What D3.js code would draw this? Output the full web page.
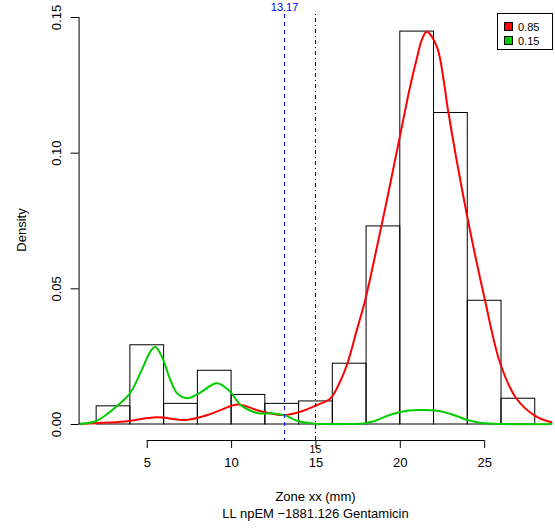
<!DOCTYPE html>
<html>
<head>
<meta charset="utf-8">
<script src="https://cdn.jsdelivr.net/npm/d3@7"></script>
<style>
  body { margin: 0; background: #fff; }
  svg text { font-family: "Liberation Sans", Arial, sans-serif; }
</style>
</head>
<body>
<div id="chart"></div>
<script>
// histogram bins (width 2) and densities
var binStarts = [2, 4, 6, 8, 10, 12, 14, 16, 18, 20, 22, 24, 26];
var binDensity = [0.0067, 0.0292, 0.0076, 0.0198, 0.0109, 0.0076, 0.0085, 0.0224, 0.0730, 0.1448, 0.1148, 0.0456, 0.0095];

// component curves
var redX = [0.92, 2.0, 3.7, 5.6, 7.3, 8.6, 9.4, 10.4, 11.7, 13.1, 14.1, 15.1, 15.9, 16.45, 16.9, 17.45, 17.95, 18.9, 19.3, 20.2, 20.6, 21.0, 21.3, 21.6, 22.2, 22.6, 22.85, 24.0, 25.05, 25.95, 26.9, 28.1, 29.1];
var redY = [0, 0.0003, 0.0009, 0.0025, 0.0015, 0.0033, 0.0052, 0.0072, 0.0048, 0.0033, 0.0045, 0.007, 0.0095, 0.0155, 0.0224, 0.0346, 0.0457, 0.0727, 0.0845, 0.112, 0.124, 0.1345, 0.1415, 0.1446, 0.139, 0.1267, 0.116, 0.0764, 0.0456, 0.0224, 0.0095, 0.0027, 0.0005];
var greenX = [0.92, 1.93, 2.7, 3.3, 4.0, 4.7, 5.2, 5.5, 5.9, 6.4, 6.8, 7.4, 8.1, 9.15, 9.85, 10.6, 11.3, 11.7, 12.5, 13.3, 13.9, 14.7, 15.5, 17.0, 17.8, 18.4, 19.4, 20.4, 21.2, 22.4, 23.2, 24.0, 24.75, 26, 29.1];
var greenY = [0, 0.0009, 0.0039, 0.007, 0.0113, 0.0199, 0.0266, 0.0285, 0.0248, 0.0162, 0.0113, 0.0095, 0.0113, 0.015, 0.0125, 0.0068, 0.0045, 0.0039, 0.0039, 0.003, 0.0012, 0.0003, 0, 0, 0.0002, 0.0009, 0.0033, 0.0049, 0.0052, 0.0047, 0.0033, 0.0015, 0.0005, 0, 0];

var xTicks = [5, 10, 15, 20, 25];
var yTicks = [0, 0.05, 0.10, 0.15];
var legendLabels = ["0.85", "0.15"];
var legendColors = ["#FF0000", "#00CD00"];
var cutoff = 13.17;
var breakpoint = 15;

var width = 555, height = 530;

var x = d3.scaleLinear().domain([0.96, 29.04]).range([78.6, 552.3]);
var y = d3.scaleLinear().domain([0, 0.15]).range([424, 17]);

var svg = d3.select("#chart").append("svg")
    .attr("width", width)
    .attr("height", height);

svg.append("defs").append("clipPath").attr("id", "plotclip")
    .append("rect")
    .attr("x", x.range()[0]).attr("y", 0)
    .attr("width", x.range()[1] - x.range()[0]).attr("height", 441);

// histogram bars
svg.append("g").selectAll("rect")
    .data(binStarts)
    .enter()
    .append("rect")
    .attr("x", function(d) { return x(d); })
    .attr("y", function(d, i) { return y(binDensity[i]); })
    .attr("width", function(d) { return x(d + 2) - x(d); })
    .attr("height", function(d, i) { return y(0) - y(binDensity[i]); })
    .style("fill", "none")
    .style("stroke", "#000")
    .style("stroke-width", 1);

// density curves
var line = d3.line().curve(d3.curveCatmullRom);
var curves = svg.append("g").attr("clip-path", "url(#plotclip)");
curves.append("path")
    .attr("d", line(redX.map(function(v, i) { return [x(v), y(redY[i])]; })))
    .style("fill", "none").style("stroke", legendColors[0]).style("stroke-width", 2);
curves.append("path")
    .attr("d", line(greenX.map(function(v, i) { return [x(v), y(greenY[i])]; })))
    .style("fill", "none").style("stroke", legendColors[1]).style("stroke-width", 2);

// vertical reference lines
svg.append("line")
    .attr("x1", x(cutoff)).attr("x2", x(cutoff))
    .attr("y1", 14).attr("y2", 440)
    .style("stroke", "#0000FF").style("stroke-width", 1)
    .style("stroke-dasharray", "4,4");
svg.append("line")
    .attr("x1", x(breakpoint)).attr("x2", x(breakpoint))
    .attr("y1", 14).attr("y2", 440)
    .style("stroke", "#000").style("stroke-width", 1)
    .style("stroke-dasharray", "1,3,4,3");

svg.append("text")
    .attr("x", x(cutoff)).attr("y", 11)
    .attr("text-anchor", "middle")
    .style("font-size", "11px").style("fill", "#0000FF")
    .text("13.17");
svg.append("text")
    .attr("x", x(breakpoint)).attr("y", 453)
    .attr("text-anchor", "middle")
    .style("font-size", "10.5px")
    .text("15");

// x axis (R style, line below the plot)
var xAxis = d3.axisBottom(x).tickValues(xTicks).tickSize(8).tickPadding(10)
    .tickFormat(d3.format("d"));
var gx = svg.append("g").attr("transform", "translate(0,440)").call(xAxis);
gx.select(".domain").attr("d", "M" + x(5) + ",0.5H" + x(25));
gx.selectAll("text").style("font-size", "13px").style("font-family", "Liberation Sans, Arial, sans-serif");

// y axis
var yAxis = d3.axisLeft(y).tickValues(yTicks).tickSize(8).tickFormat(d3.format(".2f"));
var gy = svg.append("g").attr("transform", "translate(78.6,0)").call(yAxis);
gy.select(".domain").attr("d", "M0.5," + y(0) + "V" + y(0.15));
gy.selectAll("text")
    .attr("x", null).attr("dy", null)
    .attr("transform", "translate(-18,0) rotate(-90)")
    .attr("text-anchor", "middle")
    .style("font-size", "13px").style("font-family", "Liberation Sans, Arial, sans-serif");

// axis titles
svg.append("text")
    .attr("x", 315.5).attr("y", 501)
    .attr("text-anchor", "middle")
    .style("font-size", "13px")
    .text("Zone xx (mm)");
svg.append("text")
    .attr("x", 315.5).attr("y", 518)
    .attr("text-anchor", "middle")
    .style("font-size", "13px")
    .text("LL npEM \u22121881.126 Gentamicin");
svg.append("text")
    .attr("transform", "translate(25.5,230) rotate(-90)")
    .attr("text-anchor", "middle")
    .style("font-size", "13px")
    .text("Density");

// legend
var legend = svg.append("g");
legend.append("rect")
    .attr("x", 497.5).attr("y", 13.5).attr("width", 55).attr("height", 36)
    .style("fill", "#fff").style("stroke", "#000");
legendLabels.forEach(function(lab, i) {
    legend.append("rect")
        .attr("x", 504.5).attr("y", 22.5 + i * 14).attr("width", 8).attr("height", 8)
        .style("fill", legendColors[i]).style("stroke", "#000");
    legend.append("text")
        .attr("x", 518).attr("y", 30.5 + i * 14)
        .style("font-size", "11px")
        .text(lab);
});
</script>
</body>
</html>
